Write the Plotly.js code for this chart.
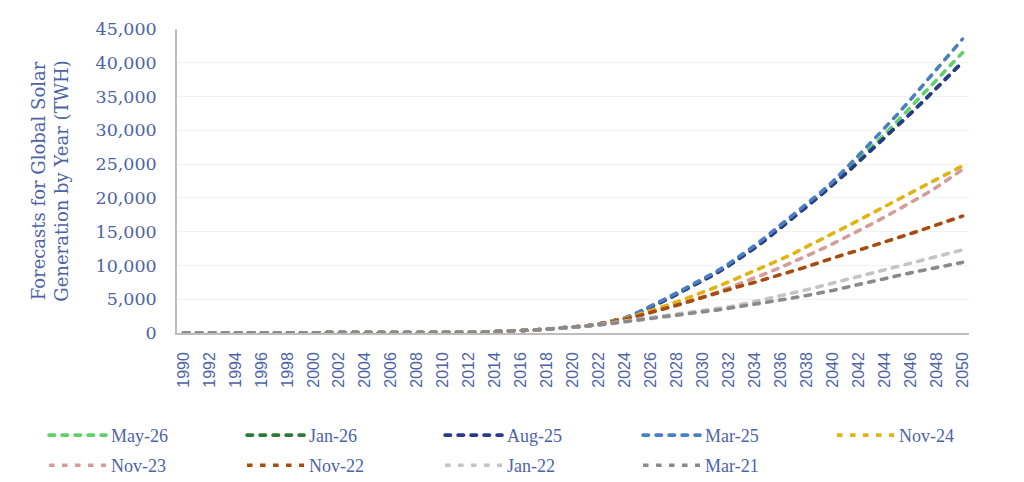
<!DOCTYPE html>
<html>
<head>
<meta charset="utf-8">
<script src="https://cdn.plot.ly/plotly-3.0.1.min.js"></script>
<style>
  html, body { margin: 0; padding: 0; background: #ffffff; }
  #chart { width: 1024px; height: 482px; }
  /* rounded dash ends on the forecast lines and legend swatches */
  .scatterlayer .js-line, .legend .js-line { stroke-linecap: round !important; }
</style>
</head>
<body>
<div id="chart"></div>
<script>
// Years 1990-2050
const years = [];
for (let y = 1990; y <= 2050; y++) years.push(y);

// Historical global solar generation (TWh), 1990-2021, shared by every vintage
const history = [0, 0, 0, 0, 1, 1, 1, 1, 1, 1, 1, 1, 2, 2, 3, 4, 5, 7, 12, 20,
                 32, 63, 98, 134, 190, 250, 330, 445, 570, 700, 850, 1030];

// Forecast vintages, 2022-2050 (TWh)
const may26 = [1340, 1740, 2200, 2950, 3850, 4850, 5850, 6850, 7800, 8880, 10060, 11330, 12700, 14170, 15690,
               17260, 18880, 20500, 22050, 23900, 25700, 27500, 29400, 31400, 33400, 35450, 37450, 39450, 41500];
const jan26 = [1340, 1720, 2150, 2900, 3780, 4760, 5750, 6750, 7720, 8800, 9980, 11250, 12600, 14050, 15550,
               17100, 18700, 20300, 21900, 23600, 25350, 27100, 28900, 30700, 32500, 34350, 36250, 38150, 40100];
const aug25 = [1340, 1720, 2150, 2900, 3780, 4760, 5750, 6750, 7720, 8800, 9980, 11250, 12600, 14050, 15550,
               17100, 18700, 20300, 21900, 23600, 25350, 27100, 28900, 30700, 32500, 34350, 36250, 38150, 40100];
const mar25 = [1340, 1750, 2250, 3050, 3950, 4950, 5950, 6950, 7950, 9050, 10250, 11550, 12950, 14450, 16000,
               17550, 19100, 20700, 22400, 24300, 26300, 28300, 30300, 32400, 34550, 36750, 39000, 41250, 43500];
const nov24 = [1300, 1700, 2150, 2700, 3300, 3950, 4600, 5300, 6000, 6780, 7570, 8370, 9180, 10000, 10900,
               11800, 12750, 13700, 14700, 15700, 16700, 17700, 18750, 19750, 20750, 21750, 22750, 23750, 24750];
const nov23 = [1300, 1650, 2050, 2550, 3050, 3600, 4150, 4700, 5300, 5980, 6680, 7400, 8150, 8920, 9720,
               10550, 11400, 12280, 13200, 14150, 15130, 16130, 17150, 18200, 19280, 20400, 21580, 22850, 24200];
const nov22 = [1300, 1650, 2050, 2500, 3000, 3500, 4100, 4700, 5300, 5900, 6500, 7000, 7500, 8050, 8600,
               9200, 9800, 10450, 11100, 11700, 12250, 12900, 13500, 14100, 14700, 15300, 16000, 16650, 17300];
const jan22 = [1250, 1500, 1750, 2000, 2250, 2500, 2750, 3000, 3250, 3550, 3850, 4250, 4650, 5050, 5500,
               5950, 6400, 6900, 7400, 7900, 8400, 8900, 9400, 9900, 10400, 10850, 11350, 11850, 12300];
const mar21 = [1200, 1420, 1650, 1880, 2120, 2360, 2600, 2850, 3100, 3380, 3660, 3950, 4250, 4560, 4880,
               5210, 5550, 5900, 6300, 6750, 7200, 7650, 8100, 8500, 8900, 9300, 9700, 10100, 10450];

const seriesNames = ['May-26', 'Jan-26', 'Aug-25', 'Mar-25', 'Nov-24', 'Nov-23', 'Nov-22', 'Jan-22', 'Mar-21'];
const seriesValues = [may26, jan26, aug25, mar25, nov24, nov23, nov22, jan22, mar21];
const seriesColors = ['#62cf6a', '#2c7a36', '#293a8a', '#4d7fc0', '#e0b413', '#d59c9c', '#a84b0f', '#c4c4c4', '#8a8a8a'];
// legend box each vintage is listed in: first row, last entry of first row, second row
const seriesLegend = ['legend', 'legend', 'legend', 'legend', 'legend2', 'legend3', 'legend3', 'legend3', 'legend3'];

const textBlue = '#4e63a5';
const legendFont = { family: 'Liberation Serif, Times New Roman, serif', size: 18, color: textBlue };

const traces = seriesNames.map((name, i) => ({
  type: 'scatter',
  mode: 'lines',
  name: name,
  legend: seriesLegend[i],
  x: years,
  y: history.concat(seriesValues[i]),
  line: { color: seriesColors[i], width: 3.6, dash: '5.5px,7.5px' },
  hoverinfo: 'x+y+name'
}));

function legendBox(x, y) {
  return {
    orientation: 'h',
    xref: 'container',
    yref: 'container',
    x: x,
    xanchor: 'left',
    y: y,
    yanchor: 'top',
    entrywidth: 126,
    entrywidthmode: 'pixels',
    itemwidth: 57,
    traceorder: 'normal',
    font: legendFont,
    bgcolor: 'rgba(0,0,0,0)'
  };
}

const layout = {
  width: 1024,
  height: 482,
  paper_bgcolor: '#ffffff',
  plot_bgcolor: '#ffffff',
  margin: { l: 177, r: 55, t: 29, b: 149 },
  showlegend: true,
  xaxis: {
    range: [1989.5, 2050.5],
    tickmode: 'linear',
    tick0: 1990,
    dtick: 2,
    tickangle: -90,
    tickfont: { family: 'Liberation Sans, Arial, sans-serif', size: 16, color: textBlue },
    ticks: 'outside',
    ticklen: 11,
    tickcolor: 'rgba(0,0,0,0)',
    showgrid: false,
    zeroline: false,
    showline: true,
    linecolor: '#bdbdbd',
    linewidth: 1.5
  },
  yaxis: {
    range: [0, 45000],
    tickmode: 'linear',
    tick0: 0,
    dtick: 5000,
    tickformat: ',d',
    tickfont: { family: 'DejaVu Serif, Georgia, serif', size: 17.5, color: textBlue },
    ticks: 'outside',
    ticklen: 15,
    tickcolor: 'rgba(0,0,0,0)',
    showgrid: true,
    gridcolor: '#f1f1f1',
    gridwidth: 1,
    zeroline: false,
    showline: true,
    linecolor: '#bdbdbd',
    linewidth: 1.5,
    title: {
      text: 'Forecasts for Global Solar<br>Generation by Year (TWH)',
      font: { family: 'DejaVu Serif, Georgia, serif', size: 18, color: textBlue },
      standoff: 22
    }
  },
  legend: legendBox(0.043, 0.135),
  legend2: legendBox(0.8125, 0.135),
  legend3: legendBox(0.043, 0.0725)
};

Plotly.newPlot('chart', traces, layout, { displayModeBar: false, responsive: false });
</script>
</body>
</html>
